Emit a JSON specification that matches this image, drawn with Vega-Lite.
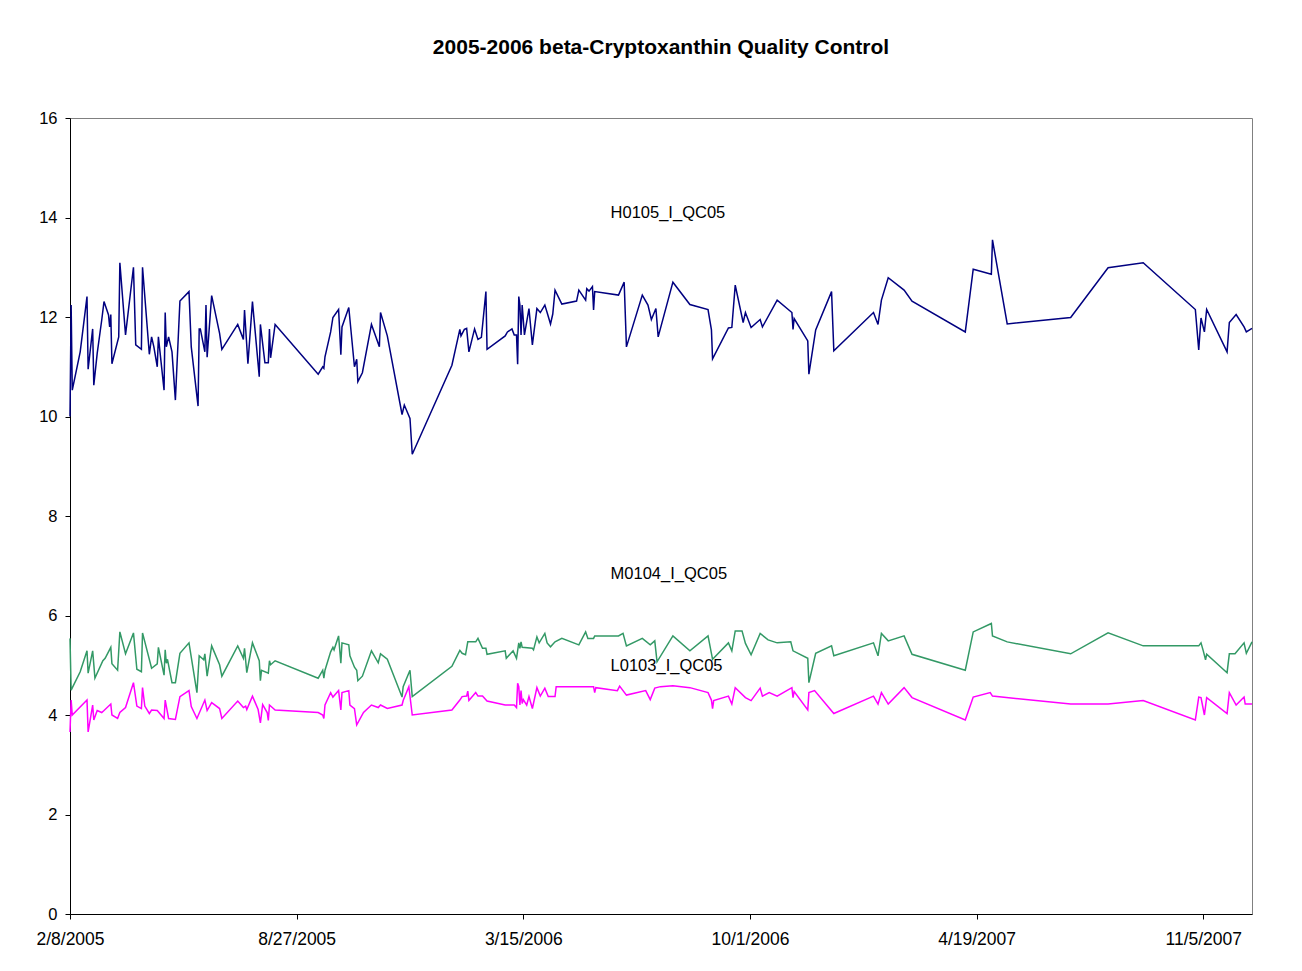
{
"$schema":"https://vega.github.io/schema/vega-lite/v6.json",
"width":1182,"height":796,
"autosize":{"type":"none"},
"padding":{"left":70,"top":118,"right":50,"bottom":57},
"background":"white",
"title":{"text":"2005-2006 beta-Cryptoxanthin Quality Control","font":"Liberation Sans","fontSize":21,"fontWeight":"bold","color":"black","anchor":"middle","offset":52},
"config":{"view":{"stroke":"#808080","strokeWidth":1},"font":"Liberation Sans"},
"datasets":{
"qc":[
{"d":"2005-02-08","s":"H0105_I_QC05","v":10.00},{"d":"2005-02-09","s":"H0105_I_QC05","v":12.24},{"d":"2005-02-10","s":"H0105_I_QC05","v":10.53},{"d":"2005-02-17","s":"H0105_I_QC05","v":11.30},{"d":"2005-02-23","s":"H0105_I_QC05","v":12.41},{"d":"2005-02-24","s":"H0105_I_QC05","v":10.95},{"d":"2005-02-28","s":"H0105_I_QC05","v":11.76},{"d":"2005-03-01","s":"H0105_I_QC05","v":10.63},{"d":"2005-03-04","s":"H0105_I_QC05","v":11.27},{"d":"2005-03-08","s":"H0105_I_QC05","v":11.94},{"d":"2005-03-10","s":"H0105_I_QC05","v":12.31},{"d":"2005-03-14","s":"H0105_I_QC05","v":12.04},{"d":"2005-03-15","s":"H0105_I_QC05","v":11.80},{"d":"2005-03-16","s":"H0105_I_QC05","v":12.05},{"d":"2005-03-17","s":"H0105_I_QC05","v":11.06},{"d":"2005-03-23","s":"H0105_I_QC05","v":11.60},{"d":"2005-03-24","s":"H0105_I_QC05","v":13.09},{"d":"2005-03-29","s":"H0105_I_QC05","v":11.64},{"d":"2005-04-05","s":"H0105_I_QC05","v":13.00},{"d":"2005-04-07","s":"H0105_I_QC05","v":11.44},{"d":"2005-04-12","s":"H0105_I_QC05","v":11.35},{"d":"2005-04-13","s":"H0105_I_QC05","v":13.00},{"d":"2005-04-19","s":"H0105_I_QC05","v":11.25},{"d":"2005-04-21","s":"H0105_I_QC05","v":11.60},{"d":"2005-04-23","s":"H0105_I_QC05","v":11.40},{"d":"2005-04-26","s":"H0105_I_QC05","v":11.00},{"d":"2005-04-27","s":"H0105_I_QC05","v":11.60},{"d":"2005-05-02","s":"H0105_I_QC05","v":10.53},{"d":"2005-05-03","s":"H0105_I_QC05","v":12.09},{"d":"2005-05-04","s":"H0105_I_QC05","v":11.40},{"d":"2005-05-06","s":"H0105_I_QC05","v":11.60},{"d":"2005-05-09","s":"H0105_I_QC05","v":11.30},{"d":"2005-05-12","s":"H0105_I_QC05","v":10.33},{"d":"2005-05-16","s":"H0105_I_QC05","v":12.32},{"d":"2005-05-24","s":"H0105_I_QC05","v":12.51},{"d":"2005-05-26","s":"H0105_I_QC05","v":11.40},{"d":"2005-06-01","s":"H0105_I_QC05","v":10.21},{"d":"2005-06-02","s":"H0105_I_QC05","v":11.76},{"d":"2005-06-03","s":"H0105_I_QC05","v":11.76},{"d":"2005-06-07","s":"H0105_I_QC05","v":11.30},{"d":"2005-06-08","s":"H0105_I_QC05","v":12.24},{"d":"2005-06-09","s":"H0105_I_QC05","v":11.19},{"d":"2005-06-13","s":"H0105_I_QC05","v":12.43},{"d":"2005-06-20","s":"H0105_I_QC05","v":11.67},{"d":"2005-06-22","s":"H0105_I_QC05","v":11.35},{"d":"2005-07-06","s":"H0105_I_QC05","v":11.85},{"d":"2005-07-11","s":"H0105_I_QC05","v":11.55},{"d":"2005-07-12","s":"H0105_I_QC05","v":12.14},{"d":"2005-07-15","s":"H0105_I_QC05","v":11.06},{"d":"2005-07-19","s":"H0105_I_QC05","v":12.31},{"d":"2005-07-25","s":"H0105_I_QC05","v":10.80},{"d":"2005-07-26","s":"H0105_I_QC05","v":11.85},{"d":"2005-07-30","s":"H0105_I_QC05","v":11.08},{"d":"2005-08-02","s":"H0105_I_QC05","v":11.08},{"d":"2005-08-03","s":"H0105_I_QC05","v":11.76},{"d":"2005-08-04","s":"H0105_I_QC05","v":11.18},{"d":"2005-08-08","s":"H0105_I_QC05","v":11.85},{"d":"2005-09-15","s":"H0105_I_QC05","v":10.85},{"d":"2005-09-19","s":"H0105_I_QC05","v":11.00},{"d":"2005-09-20","s":"H0105_I_QC05","v":10.97},{"d":"2005-09-21","s":"H0105_I_QC05","v":11.20},{"d":"2005-09-26","s":"H0105_I_QC05","v":11.70},{"d":"2005-09-28","s":"H0105_I_QC05","v":11.99},{"d":"2005-10-03","s":"H0105_I_QC05","v":12.15},{"d":"2005-10-05","s":"H0105_I_QC05","v":11.24},{"d":"2005-10-06","s":"H0105_I_QC05","v":11.80},{"d":"2005-10-12","s":"H0105_I_QC05","v":12.19},{"d":"2005-10-17","s":"H0105_I_QC05","v":11.00},{"d":"2005-10-19","s":"H0105_I_QC05","v":11.15},{"d":"2005-10-20","s":"H0105_I_QC05","v":10.70},{"d":"2005-10-24","s":"H0105_I_QC05","v":10.88},{"d":"2005-11-01","s":"H0105_I_QC05","v":11.85},{"d":"2005-11-08","s":"H0105_I_QC05","v":11.40},{"d":"2005-11-09","s":"H0105_I_QC05","v":12.09},{"d":"2005-11-15","s":"H0105_I_QC05","v":11.62},{"d":"2005-11-28","s":"H0105_I_QC05","v":10.04},{"d":"2005-11-30","s":"H0105_I_QC05","v":10.23},{"d":"2005-12-05","s":"H0105_I_QC05","v":9.96},{"d":"2005-12-07","s":"H0105_I_QC05","v":9.24},{"d":"2006-01-11","s":"H0105_I_QC05","v":11.03},{"d":"2006-01-18","s":"H0105_I_QC05","v":11.75},{"d":"2006-01-19","s":"H0105_I_QC05","v":11.62},{"d":"2006-01-22","s":"H0105_I_QC05","v":11.75},{"d":"2006-01-24","s":"H0105_I_QC05","v":11.77},{"d":"2006-01-26","s":"H0105_I_QC05","v":11.30},{"d":"2006-01-31","s":"H0105_I_QC05","v":11.76},{"d":"2006-02-03","s":"H0105_I_QC05","v":11.55},{"d":"2006-02-06","s":"H0105_I_QC05","v":11.59},{"d":"2006-02-10","s":"H0105_I_QC05","v":12.51},{"d":"2006-02-11","s":"H0105_I_QC05","v":11.35},{"d":"2006-02-27","s":"H0105_I_QC05","v":11.62},{"d":"2006-03-01","s":"H0105_I_QC05","v":11.70},{"d":"2006-03-05","s":"H0105_I_QC05","v":11.76},{"d":"2006-03-07","s":"H0105_I_QC05","v":11.64},{"d":"2006-03-09","s":"H0105_I_QC05","v":11.64},{"d":"2006-03-10","s":"H0105_I_QC05","v":11.05},{"d":"2006-03-11","s":"H0105_I_QC05","v":12.41},{"d":"2006-03-12","s":"H0105_I_QC05","v":12.24},{"d":"2006-03-13","s":"H0105_I_QC05","v":11.64},{"d":"2006-03-14","s":"H0105_I_QC05","v":12.24},{"d":"2006-03-16","s":"H0105_I_QC05","v":11.64},{"d":"2006-03-20","s":"H0105_I_QC05","v":12.17},{"d":"2006-03-23","s":"H0105_I_QC05","v":11.44},{"d":"2006-03-27","s":"H0105_I_QC05","v":12.17},{"d":"2006-03-30","s":"H0105_I_QC05","v":12.09},{"d":"2006-04-03","s":"H0105_I_QC05","v":12.24},{"d":"2006-04-05","s":"H0105_I_QC05","v":12.09},{"d":"2006-04-08","s":"H0105_I_QC05","v":11.86},{"d":"2006-04-10","s":"H0105_I_QC05","v":12.06},{"d":"2006-04-12","s":"H0105_I_QC05","v":12.54},{"d":"2006-04-18","s":"H0105_I_QC05","v":12.26},{"d":"2006-05-01","s":"H0105_I_QC05","v":12.32},{"d":"2006-05-03","s":"H0105_I_QC05","v":12.54},{"d":"2006-05-09","s":"H0105_I_QC05","v":12.34},{"d":"2006-05-10","s":"H0105_I_QC05","v":12.57},{"d":"2006-05-12","s":"H0105_I_QC05","v":12.52},{"d":"2006-05-15","s":"H0105_I_QC05","v":12.61},{"d":"2006-05-16","s":"H0105_I_QC05","v":12.14},{"d":"2006-05-17","s":"H0105_I_QC05","v":12.51},{"d":"2006-06-07","s":"H0105_I_QC05","v":12.44},{"d":"2006-06-12","s":"H0105_I_QC05","v":12.70},{"d":"2006-06-14","s":"H0105_I_QC05","v":11.40},{"d":"2006-06-28","s":"H0105_I_QC05","v":12.44},{"d":"2006-07-03","s":"H0105_I_QC05","v":12.24},{"d":"2006-07-06","s":"H0105_I_QC05","v":11.95},{"d":"2006-07-10","s":"H0105_I_QC05","v":12.17},{"d":"2006-07-12","s":"H0105_I_QC05","v":11.60},{"d":"2006-07-25","s":"H0105_I_QC05","v":12.70},{"d":"2006-08-09","s":"H0105_I_QC05","v":12.25},{"d":"2006-08-25","s":"H0105_I_QC05","v":12.15},{"d":"2006-08-28","s":"H0105_I_QC05","v":11.74},{"d":"2006-08-29","s":"H0105_I_QC05","v":11.16},{"d":"2006-09-12","s":"H0105_I_QC05","v":11.78},{"d":"2006-09-15","s":"H0105_I_QC05","v":11.79},{"d":"2006-09-18","s":"H0105_I_QC05","v":12.64},{"d":"2006-09-25","s":"H0105_I_QC05","v":11.89},{"d":"2006-09-27","s":"H0105_I_QC05","v":12.09},{"d":"2006-10-02","s":"H0105_I_QC05","v":11.79},{"d":"2006-10-10","s":"H0105_I_QC05","v":11.95},{"d":"2006-10-12","s":"H0105_I_QC05","v":11.80},{"d":"2006-10-25","s":"H0105_I_QC05","v":12.34},{"d":"2006-11-07","s":"H0105_I_QC05","v":12.09},{"d":"2006-11-08","s":"H0105_I_QC05","v":11.75},{"d":"2006-11-09","s":"H0105_I_QC05","v":11.97},{"d":"2006-11-21","s":"H0105_I_QC05","v":11.52},{"d":"2006-11-22","s":"H0105_I_QC05","v":10.85},{"d":"2006-11-28","s":"H0105_I_QC05","v":11.74},{"d":"2006-12-12","s":"H0105_I_QC05","v":12.51},{"d":"2006-12-14","s":"H0105_I_QC05","v":11.32},{"d":"2007-01-18","s":"H0105_I_QC05","v":12.09},{"d":"2007-01-22","s":"H0105_I_QC05","v":11.85},{"d":"2007-01-25","s":"H0105_I_QC05","v":12.34},{"d":"2007-01-31","s":"H0105_I_QC05","v":12.79},{"d":"2007-02-14","s":"H0105_I_QC05","v":12.54},{"d":"2007-02-21","s":"H0105_I_QC05","v":12.32},{"d":"2007-04-09","s":"H0105_I_QC05","v":11.70},{"d":"2007-04-16","s":"H0105_I_QC05","v":12.96},{"d":"2007-05-02","s":"H0105_I_QC05","v":12.86},{"d":"2007-05-03","s":"H0105_I_QC05","v":13.55},{"d":"2007-05-16","s":"H0105_I_QC05","v":11.86},{"d":"2007-07-11","s":"H0105_I_QC05","v":11.99},{"d":"2007-08-13","s":"H0105_I_QC05","v":12.99},{"d":"2007-09-13","s":"H0105_I_QC05","v":13.09},{"d":"2007-10-29","s":"H0105_I_QC05","v":12.15},{"d":"2007-11-01","s":"H0105_I_QC05","v":11.34},{"d":"2007-11-03","s":"H0105_I_QC05","v":11.98},{"d":"2007-11-06","s":"H0105_I_QC05","v":11.70},{"d":"2007-11-08","s":"H0105_I_QC05","v":12.15},{"d":"2007-11-26","s":"H0105_I_QC05","v":11.30},{"d":"2007-11-28","s":"H0105_I_QC05","v":11.89},{"d":"2007-12-04","s":"H0105_I_QC05","v":12.05},{"d":"2007-12-11","s":"H0105_I_QC05","v":11.80},{"d":"2007-12-13","s":"H0105_I_QC05","v":11.70},{"d":"2007-12-18","s":"H0105_I_QC05","v":11.77},
{"d":"2005-02-08","s":"M0104_I_QC05","v":5.54},{"d":"2005-02-09","s":"M0104_I_QC05","v":4.50},{"d":"2005-02-17","s":"M0104_I_QC05","v":4.87},{"d":"2005-02-23","s":"M0104_I_QC05","v":5.29},{"d":"2005-02-24","s":"M0104_I_QC05","v":4.84},{"d":"2005-02-28","s":"M0104_I_QC05","v":5.29},{"d":"2005-03-02","s":"M0104_I_QC05","v":4.74},{"d":"2005-03-09","s":"M0104_I_QC05","v":5.09},{"d":"2005-03-11","s":"M0104_I_QC05","v":5.14},{"d":"2005-03-16","s":"M0104_I_QC05","v":5.36},{"d":"2005-03-17","s":"M0104_I_QC05","v":5.03},{"d":"2005-03-22","s":"M0104_I_QC05","v":4.90},{"d":"2005-03-24","s":"M0104_I_QC05","v":5.67},{"d":"2005-03-29","s":"M0104_I_QC05","v":5.23},{"d":"2005-04-05","s":"M0104_I_QC05","v":5.65},{"d":"2005-04-08","s":"M0104_I_QC05","v":4.92},{"d":"2005-04-12","s":"M0104_I_QC05","v":4.87},{"d":"2005-04-13","s":"M0104_I_QC05","v":5.65},{"d":"2005-04-21","s":"M0104_I_QC05","v":4.94},{"d":"2005-04-26","s":"M0104_I_QC05","v":5.03},{"d":"2005-04-27","s":"M0104_I_QC05","v":5.36},{"d":"2005-05-02","s":"M0104_I_QC05","v":4.80},{"d":"2005-05-03","s":"M0104_I_QC05","v":5.31},{"d":"2005-05-04","s":"M0104_I_QC05","v":5.04},{"d":"2005-05-05","s":"M0104_I_QC05","v":5.12},{"d":"2005-05-09","s":"M0104_I_QC05","v":4.65},{"d":"2005-05-12","s":"M0104_I_QC05","v":4.65},{"d":"2005-05-16","s":"M0104_I_QC05","v":5.24},{"d":"2005-05-24","s":"M0104_I_QC05","v":5.45},{"d":"2005-05-31","s":"M0104_I_QC05","v":4.45},{"d":"2005-06-02","s":"M0104_I_QC05","v":5.19},{"d":"2005-06-06","s":"M0104_I_QC05","v":5.11},{"d":"2005-06-07","s":"M0104_I_QC05","v":5.23},{"d":"2005-06-09","s":"M0104_I_QC05","v":4.78},{"d":"2005-06-13","s":"M0104_I_QC05","v":5.39},{"d":"2005-06-20","s":"M0104_I_QC05","v":5.01},{"d":"2005-06-22","s":"M0104_I_QC05","v":4.78},{"d":"2005-07-06","s":"M0104_I_QC05","v":5.39},{"d":"2005-07-11","s":"M0104_I_QC05","v":5.14},{"d":"2005-07-12","s":"M0104_I_QC05","v":5.34},{"d":"2005-07-14","s":"M0104_I_QC05","v":4.85},{"d":"2005-07-19","s":"M0104_I_QC05","v":5.45},{"d":"2005-07-25","s":"M0104_I_QC05","v":5.09},{"d":"2005-07-26","s":"M0104_I_QC05","v":4.69},{"d":"2005-07-27","s":"M0104_I_QC05","v":4.90},{"d":"2005-08-02","s":"M0104_I_QC05","v":4.84},{"d":"2005-08-03","s":"M0104_I_QC05","v":5.09},{"d":"2005-08-04","s":"M0104_I_QC05","v":5.01},{"d":"2005-08-08","s":"M0104_I_QC05","v":5.09},{"d":"2005-09-15","s":"M0104_I_QC05","v":4.74},{"d":"2005-09-19","s":"M0104_I_QC05","v":4.90},{"d":"2005-09-20","s":"M0104_I_QC05","v":4.74},{"d":"2005-09-21","s":"M0104_I_QC05","v":4.90},{"d":"2005-09-26","s":"M0104_I_QC05","v":5.27},{"d":"2005-09-28","s":"M0104_I_QC05","v":5.36},{"d":"2005-09-29","s":"M0104_I_QC05","v":5.31},{"d":"2005-10-03","s":"M0104_I_QC05","v":5.59},{"d":"2005-10-05","s":"M0104_I_QC05","v":5.04},{"d":"2005-10-06","s":"M0104_I_QC05","v":5.45},{"d":"2005-10-12","s":"M0104_I_QC05","v":5.41},{"d":"2005-10-13","s":"M0104_I_QC05","v":5.19},{"d":"2005-10-17","s":"M0104_I_QC05","v":4.96},{"d":"2005-10-19","s":"M0104_I_QC05","v":4.90},{"d":"2005-10-20","s":"M0104_I_QC05","v":4.69},{"d":"2005-10-24","s":"M0104_I_QC05","v":4.78},{"d":"2005-11-01","s":"M0104_I_QC05","v":5.29},{"d":"2005-11-07","s":"M0104_I_QC05","v":5.05},{"d":"2005-11-09","s":"M0104_I_QC05","v":5.23},{"d":"2005-11-15","s":"M0104_I_QC05","v":5.12},{"d":"2005-11-28","s":"M0104_I_QC05","v":4.36},{"d":"2005-11-29","s":"M0104_I_QC05","v":4.57},{"d":"2005-12-05","s":"M0104_I_QC05","v":4.90},{"d":"2005-12-07","s":"M0104_I_QC05","v":4.37},{"d":"2006-01-11","s":"M0104_I_QC05","v":4.98},{"d":"2006-01-18","s":"M0104_I_QC05","v":5.30},{"d":"2006-01-20","s":"M0104_I_QC05","v":5.24},{"d":"2006-01-23","s":"M0104_I_QC05","v":5.21},{"d":"2006-01-25","s":"M0104_I_QC05","v":5.47},{"d":"2006-02-01","s":"M0104_I_QC05","v":5.47},{"d":"2006-02-03","s":"M0104_I_QC05","v":5.54},{"d":"2006-02-07","s":"M0104_I_QC05","v":5.34},{"d":"2006-02-10","s":"M0104_I_QC05","v":5.34},{"d":"2006-02-11","s":"M0104_I_QC05","v":5.22},{"d":"2006-02-27","s":"M0104_I_QC05","v":5.29},{"d":"2006-02-28","s":"M0104_I_QC05","v":5.14},{"d":"2006-03-06","s":"M0104_I_QC05","v":5.29},{"d":"2006-03-09","s":"M0104_I_QC05","v":5.14},{"d":"2006-03-11","s":"M0104_I_QC05","v":5.45},{"d":"2006-03-12","s":"M0104_I_QC05","v":5.34},{"d":"2006-03-13","s":"M0104_I_QC05","v":5.47},{"d":"2006-03-14","s":"M0104_I_QC05","v":5.36},{"d":"2006-03-23","s":"M0104_I_QC05","v":5.34},{"d":"2006-03-24","s":"M0104_I_QC05","v":5.31},{"d":"2006-03-27","s":"M0104_I_QC05","v":5.57},{"d":"2006-03-29","s":"M0104_I_QC05","v":5.45},{"d":"2006-04-03","s":"M0104_I_QC05","v":5.64},{"d":"2006-04-05","s":"M0104_I_QC05","v":5.45},{"d":"2006-04-08","s":"M0104_I_QC05","v":5.37},{"d":"2006-04-12","s":"M0104_I_QC05","v":5.47},{"d":"2006-04-18","s":"M0104_I_QC05","v":5.54},{"d":"2006-05-03","s":"M0104_I_QC05","v":5.41},{"d":"2006-05-09","s":"M0104_I_QC05","v":5.67},{"d":"2006-05-11","s":"M0104_I_QC05","v":5.54},{"d":"2006-05-16","s":"M0104_I_QC05","v":5.54},{"d":"2006-05-17","s":"M0104_I_QC05","v":5.59},{"d":"2006-06-07","s":"M0104_I_QC05","v":5.59},{"d":"2006-06-11","s":"M0104_I_QC05","v":5.64},{"d":"2006-06-14","s":"M0104_I_QC05","v":5.39},{"d":"2006-06-28","s":"M0104_I_QC05","v":5.54},{"d":"2006-07-05","s":"M0104_I_QC05","v":5.41},{"d":"2006-07-09","s":"M0104_I_QC05","v":5.49},{"d":"2006-07-11","s":"M0104_I_QC05","v":5.07},{"d":"2006-07-25","s":"M0104_I_QC05","v":5.59},{"d":"2006-08-09","s":"M0104_I_QC05","v":5.29},{"d":"2006-08-25","s":"M0104_I_QC05","v":5.59},{"d":"2006-08-29","s":"M0104_I_QC05","v":5.12},{"d":"2006-09-12","s":"M0104_I_QC05","v":5.45},{"d":"2006-09-15","s":"M0104_I_QC05","v":5.29},{"d":"2006-09-18","s":"M0104_I_QC05","v":5.69},{"d":"2006-09-24","s":"M0104_I_QC05","v":5.69},{"d":"2006-09-27","s":"M0104_I_QC05","v":5.44},{"d":"2006-10-02","s":"M0104_I_QC05","v":5.21},{"d":"2006-10-10","s":"M0104_I_QC05","v":5.64},{"d":"2006-10-17","s":"M0104_I_QC05","v":5.51},{"d":"2006-10-25","s":"M0104_I_QC05","v":5.45},{"d":"2006-11-06","s":"M0104_I_QC05","v":5.47},{"d":"2006-11-08","s":"M0104_I_QC05","v":5.29},{"d":"2006-11-21","s":"M0104_I_QC05","v":5.14},{"d":"2006-11-22","s":"M0104_I_QC05","v":4.65},{"d":"2006-11-28","s":"M0104_I_QC05","v":5.24},{"d":"2006-12-12","s":"M0104_I_QC05","v":5.39},{"d":"2006-12-14","s":"M0104_I_QC05","v":5.19},{"d":"2007-01-18","s":"M0104_I_QC05","v":5.45},{"d":"2007-01-22","s":"M0104_I_QC05","v":5.19},{"d":"2007-01-25","s":"M0104_I_QC05","v":5.64},{"d":"2007-01-31","s":"M0104_I_QC05","v":5.49},{"d":"2007-02-14","s":"M0104_I_QC05","v":5.59},{"d":"2007-02-21","s":"M0104_I_QC05","v":5.22},{"d":"2007-04-09","s":"M0104_I_QC05","v":4.90},{"d":"2007-04-16","s":"M0104_I_QC05","v":5.67},{"d":"2007-05-02","s":"M0104_I_QC05","v":5.84},{"d":"2007-05-03","s":"M0104_I_QC05","v":5.59},{"d":"2007-05-16","s":"M0104_I_QC05","v":5.47},{"d":"2007-07-11","s":"M0104_I_QC05","v":5.23},{"d":"2007-08-13","s":"M0104_I_QC05","v":5.65},{"d":"2007-09-13","s":"M0104_I_QC05","v":5.39},{"d":"2007-11-01","s":"M0104_I_QC05","v":5.39},{"d":"2007-11-03","s":"M0104_I_QC05","v":5.45},{"d":"2007-11-05","s":"M0104_I_QC05","v":5.29},{"d":"2007-11-07","s":"M0104_I_QC05","v":5.11},{"d":"2007-11-08","s":"M0104_I_QC05","v":5.22},{"d":"2007-11-26","s":"M0104_I_QC05","v":4.85},{"d":"2007-11-28","s":"M0104_I_QC05","v":5.23},{"d":"2007-12-03","s":"M0104_I_QC05","v":5.23},{"d":"2007-12-11","s":"M0104_I_QC05","v":5.45},{"d":"2007-12-13","s":"M0104_I_QC05","v":5.24},{"d":"2007-12-18","s":"M0104_I_QC05","v":5.47},
{"d":"2005-02-08","s":"L0103_I_QC05","v":3.66},{"d":"2005-02-09","s":"L0103_I_QC05","v":4.30},{"d":"2005-02-10","s":"L0103_I_QC05","v":4.00},{"d":"2005-02-23","s":"L0103_I_QC05","v":4.30},{"d":"2005-02-24","s":"L0103_I_QC05","v":3.66},{"d":"2005-02-28","s":"L0103_I_QC05","v":4.20},{"d":"2005-03-01","s":"L0103_I_QC05","v":3.90},{"d":"2005-03-04","s":"L0103_I_QC05","v":4.09},{"d":"2005-03-08","s":"L0103_I_QC05","v":4.05},{"d":"2005-03-10","s":"L0103_I_QC05","v":4.09},{"d":"2005-03-16","s":"L0103_I_QC05","v":4.22},{"d":"2005-03-17","s":"L0103_I_QC05","v":4.00},{"d":"2005-03-22","s":"L0103_I_QC05","v":3.93},{"d":"2005-03-24","s":"L0103_I_QC05","v":4.05},{"d":"2005-03-29","s":"L0103_I_QC05","v":4.15},{"d":"2005-04-05","s":"L0103_I_QC05","v":4.65},{"d":"2005-04-08","s":"L0103_I_QC05","v":4.18},{"d":"2005-04-12","s":"L0103_I_QC05","v":4.13},{"d":"2005-04-13","s":"L0103_I_QC05","v":4.55},{"d":"2005-04-15","s":"L0103_I_QC05","v":4.18},{"d":"2005-04-19","s":"L0103_I_QC05","v":4.03},{"d":"2005-04-21","s":"L0103_I_QC05","v":4.10},{"d":"2005-04-26","s":"L0103_I_QC05","v":4.09},{"d":"2005-05-02","s":"L0103_I_QC05","v":3.93},{"d":"2005-05-03","s":"L0103_I_QC05","v":4.30},{"d":"2005-05-06","s":"L0103_I_QC05","v":3.93},{"d":"2005-05-12","s":"L0103_I_QC05","v":3.91},{"d":"2005-05-16","s":"L0103_I_QC05","v":4.37},{"d":"2005-05-24","s":"L0103_I_QC05","v":4.49},{"d":"2005-05-26","s":"L0103_I_QC05","v":4.17},{"d":"2005-05-31","s":"L0103_I_QC05","v":3.93},{"d":"2005-06-07","s":"L0103_I_QC05","v":4.30},{"d":"2005-06-09","s":"L0103_I_QC05","v":4.09},{"d":"2005-06-13","s":"L0103_I_QC05","v":4.25},{"d":"2005-06-20","s":"L0103_I_QC05","v":4.13},{"d":"2005-06-22","s":"L0103_I_QC05","v":3.93},{"d":"2005-07-06","s":"L0103_I_QC05","v":4.28},{"d":"2005-07-11","s":"L0103_I_QC05","v":4.15},{"d":"2005-07-13","s":"L0103_I_QC05","v":4.18},{"d":"2005-07-14","s":"L0103_I_QC05","v":4.11},{"d":"2005-07-19","s":"L0103_I_QC05","v":4.38},{"d":"2005-07-24","s":"L0103_I_QC05","v":4.11},{"d":"2005-07-26","s":"L0103_I_QC05","v":3.84},{"d":"2005-07-28","s":"L0103_I_QC05","v":4.21},{"d":"2005-08-01","s":"L0103_I_QC05","v":4.05},{"d":"2005-08-02","s":"L0103_I_QC05","v":3.89},{"d":"2005-08-03","s":"L0103_I_QC05","v":4.20},{"d":"2005-08-08","s":"L0103_I_QC05","v":4.10},{"d":"2005-09-15","s":"L0103_I_QC05","v":4.05},{"d":"2005-09-19","s":"L0103_I_QC05","v":4.00},{"d":"2005-09-20","s":"L0103_I_QC05","v":3.93},{"d":"2005-09-21","s":"L0103_I_QC05","v":4.20},{"d":"2005-09-26","s":"L0103_I_QC05","v":4.45},{"d":"2005-09-28","s":"L0103_I_QC05","v":4.36},{"d":"2005-10-03","s":"L0103_I_QC05","v":4.49},{"d":"2005-10-05","s":"L0103_I_QC05","v":4.10},{"d":"2005-10-06","s":"L0103_I_QC05","v":4.45},{"d":"2005-10-12","s":"L0103_I_QC05","v":4.49},{"d":"2005-10-13","s":"L0103_I_QC05","v":4.20},{"d":"2005-10-17","s":"L0103_I_QC05","v":4.13},{"d":"2005-10-19","s":"L0103_I_QC05","v":3.80},{"d":"2005-10-25","s":"L0103_I_QC05","v":4.05},{"d":"2005-11-01","s":"L0103_I_QC05","v":4.20},{"d":"2005-11-07","s":"L0103_I_QC05","v":4.15},{"d":"2005-11-09","s":"L0103_I_QC05","v":4.20},{"d":"2005-11-15","s":"L0103_I_QC05","v":4.13},{"d":"2005-11-28","s":"L0103_I_QC05","v":4.20},{"d":"2005-11-29","s":"L0103_I_QC05","v":4.29},{"d":"2005-12-04","s":"L0103_I_QC05","v":4.57},{"d":"2005-12-07","s":"L0103_I_QC05","v":4.00},{"d":"2006-01-11","s":"L0103_I_QC05","v":4.10},{"d":"2006-01-18","s":"L0103_I_QC05","v":4.30},{"d":"2006-01-20","s":"L0103_I_QC05","v":4.37},{"d":"2006-01-24","s":"L0103_I_QC05","v":4.38},{"d":"2006-01-25","s":"L0103_I_QC05","v":4.48},{"d":"2006-01-26","s":"L0103_I_QC05","v":4.29},{"d":"2006-02-01","s":"L0103_I_QC05","v":4.45},{"d":"2006-02-03","s":"L0103_I_QC05","v":4.38},{"d":"2006-02-07","s":"L0103_I_QC05","v":4.38},{"d":"2006-02-11","s":"L0103_I_QC05","v":4.28},{"d":"2006-02-27","s":"L0103_I_QC05","v":4.20},{"d":"2006-03-07","s":"L0103_I_QC05","v":4.20},{"d":"2006-03-09","s":"L0103_I_QC05","v":4.15},{"d":"2006-03-10","s":"L0103_I_QC05","v":4.64},{"d":"2006-03-11","s":"L0103_I_QC05","v":4.57},{"d":"2006-03-12","s":"L0103_I_QC05","v":4.20},{"d":"2006-03-13","s":"L0103_I_QC05","v":4.49},{"d":"2006-03-14","s":"L0103_I_QC05","v":4.23},{"d":"2006-03-15","s":"L0103_I_QC05","v":4.31},{"d":"2006-03-18","s":"L0103_I_QC05","v":4.20},{"d":"2006-03-20","s":"L0103_I_QC05","v":4.37},{"d":"2006-03-23","s":"L0103_I_QC05","v":4.13},{"d":"2006-03-27","s":"L0103_I_QC05","v":4.55},{"d":"2006-03-30","s":"L0103_I_QC05","v":4.38},{"d":"2006-04-03","s":"L0103_I_QC05","v":4.54},{"d":"2006-04-06","s":"L0103_I_QC05","v":4.37},{"d":"2006-04-12","s":"L0103_I_QC05","v":4.37},{"d":"2006-04-13","s":"L0103_I_QC05","v":4.57},{"d":"2006-05-16","s":"L0103_I_QC05","v":4.57},{"d":"2006-05-17","s":"L0103_I_QC05","v":4.45},{"d":"2006-05-18","s":"L0103_I_QC05","v":4.55},{"d":"2006-06-06","s":"L0103_I_QC05","v":4.49},{"d":"2006-06-08","s":"L0103_I_QC05","v":4.58},{"d":"2006-06-14","s":"L0103_I_QC05","v":4.40},{"d":"2006-07-01","s":"L0103_I_QC05","v":4.49},{"d":"2006-07-05","s":"L0103_I_QC05","v":4.31},{"d":"2006-07-09","s":"L0103_I_QC05","v":4.54},{"d":"2006-07-14","s":"L0103_I_QC05","v":4.57},{"d":"2006-07-25","s":"L0103_I_QC05","v":4.59},{"d":"2006-08-09","s":"L0103_I_QC05","v":4.55},{"d":"2006-08-25","s":"L0103_I_QC05","v":4.45},{"d":"2006-08-28","s":"L0103_I_QC05","v":4.30},{"d":"2006-08-29","s":"L0103_I_QC05","v":4.13},{"d":"2006-08-30","s":"L0103_I_QC05","v":4.29},{"d":"2006-09-12","s":"L0103_I_QC05","v":4.38},{"d":"2006-09-15","s":"L0103_I_QC05","v":4.22},{"d":"2006-09-18","s":"L0103_I_QC05","v":4.55},{"d":"2006-09-27","s":"L0103_I_QC05","v":4.35},{"d":"2006-10-02","s":"L0103_I_QC05","v":4.29},{"d":"2006-10-10","s":"L0103_I_QC05","v":4.54},{"d":"2006-10-12","s":"L0103_I_QC05","v":4.38},{"d":"2006-10-18","s":"L0103_I_QC05","v":4.45},{"d":"2006-10-25","s":"L0103_I_QC05","v":4.38},{"d":"2006-11-07","s":"L0103_I_QC05","v":4.55},{"d":"2006-11-08","s":"L0103_I_QC05","v":4.35},{"d":"2006-11-09","s":"L0103_I_QC05","v":4.47},{"d":"2006-11-21","s":"L0103_I_QC05","v":4.10},{"d":"2006-11-22","s":"L0103_I_QC05","v":4.45},{"d":"2006-11-27","s":"L0103_I_QC05","v":4.49},{"d":"2006-12-14","s":"L0103_I_QC05","v":4.03},{"d":"2007-01-18","s":"L0103_I_QC05","v":4.38},{"d":"2007-01-22","s":"L0103_I_QC05","v":4.22},{"d":"2007-01-25","s":"L0103_I_QC05","v":4.45},{"d":"2007-01-31","s":"L0103_I_QC05","v":4.22},{"d":"2007-02-14","s":"L0103_I_QC05","v":4.55},{"d":"2007-02-21","s":"L0103_I_QC05","v":4.35},{"d":"2007-04-09","s":"L0103_I_QC05","v":3.90},{"d":"2007-04-16","s":"L0103_I_QC05","v":4.36},{"d":"2007-05-01","s":"L0103_I_QC05","v":4.45},{"d":"2007-05-03","s":"L0103_I_QC05","v":4.38},{"d":"2007-07-11","s":"L0103_I_QC05","v":4.22},{"d":"2007-08-13","s":"L0103_I_QC05","v":4.22},{"d":"2007-09-13","s":"L0103_I_QC05","v":4.29},{"d":"2007-10-29","s":"L0103_I_QC05","v":3.90},{"d":"2007-11-01","s":"L0103_I_QC05","v":4.36},{"d":"2007-11-03","s":"L0103_I_QC05","v":4.35},{"d":"2007-11-06","s":"L0103_I_QC05","v":4.00},{"d":"2007-11-08","s":"L0103_I_QC05","v":4.35},{"d":"2007-11-26","s":"L0103_I_QC05","v":4.03},{"d":"2007-11-28","s":"L0103_I_QC05","v":4.45},{"d":"2007-12-04","s":"L0103_I_QC05","v":4.20},{"d":"2007-12-11","s":"L0103_I_QC05","v":4.36},{"d":"2007-12-12","s":"L0103_I_QC05","v":4.22},{"d":"2007-12-18","s":"L0103_I_QC05","v":4.22}
],
"labels":[
{"d":"2006-05-31","v":14.09,"t":"H0105_I_QC05"},
{"d":"2006-05-31","v":6.83,"t":"M0104_I_QC05"},
{"d":"2006-05-31","v":4.98,"t":"L0103_I_QC05"}
]
},
"encoding":{
"x":{"field":"d","type":"temporal",
 "scale":{"type":"utc","domain":[{"year":2005,"month":2,"date":8,"utc":true},{"year":2007,"month":12,"date":18,"utc":true}]},
 "axis":{"title":null,"grid":false,"values":[{"year":2005,"month":2,"date":8,"utc":true},{"year":2005,"month":8,"date":27,"utc":true},{"year":2006,"month":3,"date":15,"utc":true},{"year":2006,"month":10,"date":1,"utc":true},{"year":2007,"month":4,"date":19,"utc":true},{"year":2007,"month":11,"date":5,"utc":true}],
  "labelExpr":"utcFormat(datum.value, '%-m/%-d/%Y')","domainColor":"black","domainWidth":1,"tickColor":"black","tickSize":5,"labelColor":"black","labelFont":"Liberation Sans","labelFontSize":17.5,"labelPadding":11,"labelOverlap":false,"labelFlush":false}},
"y":{"field":"v","type":"quantitative",
 "scale":{"domain":[0,16],"nice":false,"zero":true},
 "axis":{"title":null,"grid":false,"values":[0,2,4,6,8,10,12,14,16],"domainColor":"black","domainWidth":1,"tickColor":"black","tickSize":5,"labelColor":"black","labelFont":"Liberation Sans","labelFontSize":16.5,"labelPadding":8}}
},
"layer":[
{"data":{"name":"qc"},
 "mark":{"type":"line","strokeWidth":1.5,"interpolate":"linear"},
 "encoding":{"color":{"field":"s","type":"nominal","scale":{"domain":["H0105_I_QC05","M0104_I_QC05","L0103_I_QC05"],"range":["#000080","#339966","#FF00FF"]},"legend":null}}},
{"data":{"name":"labels"},
 "mark":{"type":"text","align":"left","baseline":"middle","font":"Liberation Sans","fontSize":16.5,"color":"black"},
 "encoding":{"text":{"field":"t","type":"nominal"}}}
]
}
